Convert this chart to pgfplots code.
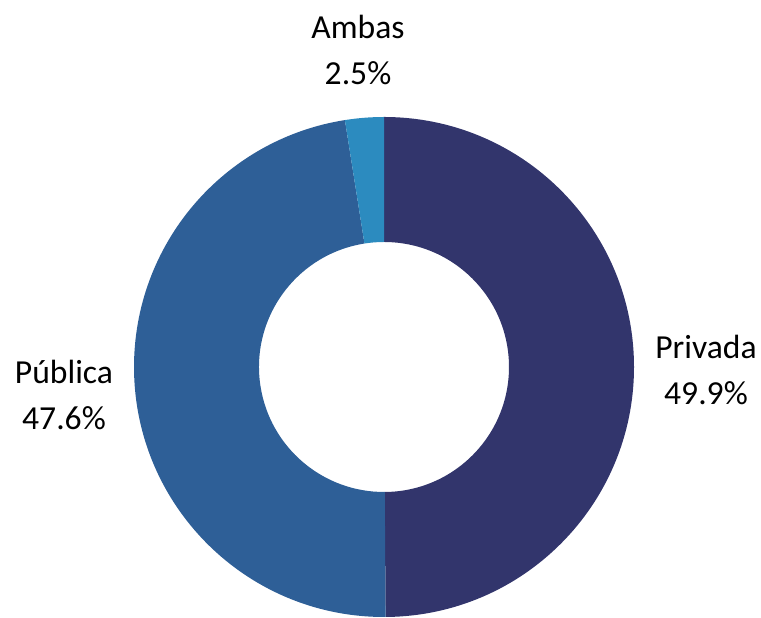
\documentclass[border=0pt]{standalone}
\usepackage{pgfplots}
\pgfplotsset{compat=1.18}
\usepackage{fontspec}
\setmainfont{Carlito}
\definecolor{cPriv}{HTML}{32356C}
\definecolor{cPub}{HTML}{2E5F97}
\definecolor{cAmb}{HTML}{2C8BBF}
% data (percent)
\def\vPriv{49.9}
\def\vPub{47.6}
\def\vAmb{2.5}
\newcommand\donutwedge[3]{%
  \fill[#3, shift={(axis cs:384,249)}] (#1:125pt) arc[start angle=#1,end angle=#2,radius=125pt]
     -- (#2:62.5pt) arc[start angle=#2,end angle=#1,radius=62.5pt] -- cycle;}
\begin{document}
\begin{tikzpicture}
\pgfmathsetmacro\aA{90}
\pgfmathsetmacro\aB{90-3.6*\vPriv}
\pgfmathsetmacro\aC{\aB-3.6*\vPub}
\pgfmathsetmacro\aD{\aC-3.6*\vAmb}
\begin{axis}[scale only axis, width=380.5pt, height=308pt,
  xmin=0, xmax=761, ymin=0, ymax=616, axis lines=none, clip=false,
  font=\fontsize{16.8}{23}\selectfont]
\path (axis cs:0,0) (axis cs:761,616);
\donutwedge{\aA}{\aB}{cPriv}
\donutwedge{\aB}{\aC}{cPub}
\donutwedge{\aC}{\aD}{cAmb}
\node[align=center, anchor=center, inner sep=0pt] at (axis cs:706,246) {Privada\\\vPriv\%};
\node[align=center, anchor=center, inner sep=0pt] at (axis cs:64,221) {Pública\\\vPub\%};
\node[align=center, anchor=center, inner sep=0pt] at (axis cs:358,566) {Ambas\\\vAmb\%};
\end{axis}
\end{tikzpicture}
\end{document}
